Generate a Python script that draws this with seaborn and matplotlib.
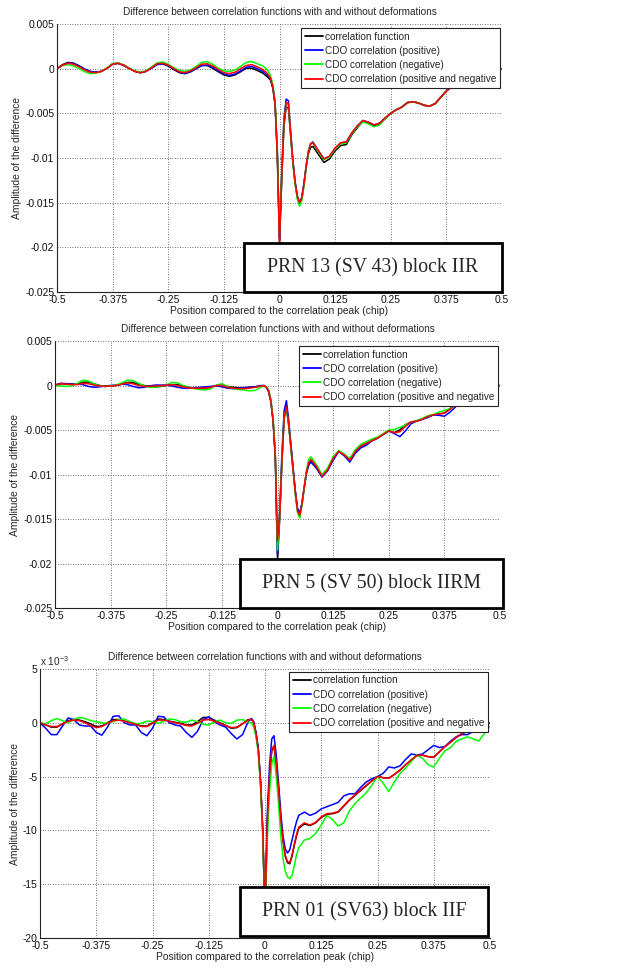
import numpy as np
import pandas as pd
import matplotlib
matplotlib.use("Agg")
import matplotlib.pyplot as plt
import seaborn as sns
from matplotlib.patches import Rectangle

sns.set_style("white")
plt.rcParams['font.family'] = ['Liberation Sans', 'DejaVu Sans']
plt.rcParams['axes.unicode_minus'] = False
plt.rcParams['mathtext.fontset'] = 'custom'
plt.rcParams['mathtext.rm'] = 'Liberation Sans'

# Position compared to the correlation peak (chip), shared by every curve
x_pos = [-0.5, -0.4875, -0.475, -0.4625, -0.45, -0.4375, -0.425, -0.4125, -0.4, -0.3875,
         -0.375, -0.3625, -0.35, -0.3375, -0.325, -0.3125, -0.3, -0.2875, -0.275, -0.2625,
         -0.25, -0.2375, -0.225, -0.2125, -0.2, -0.1875, -0.175, -0.1625, -0.15, -0.1375,
         -0.125, -0.1125, -0.1, -0.0875, -0.075, -0.0625, -0.05, -0.0375,
         -0.03, -0.025, -0.02, -0.015, -0.01, -0.005, 0.0, 0.005, 0.01, 0.015, 0.02,
         0.025, 0.03, 0.035, 0.04, 0.045, 0.05, 0.055, 0.06, 0.065, 0.07, 0.075,
         0.0875, 0.1, 0.1125, 0.125, 0.1375, 0.15, 0.1625, 0.175, 0.1875, 0.2,
         0.2125, 0.225, 0.2375, 0.25, 0.2625, 0.275, 0.2875, 0.3, 0.3125, 0.325,
         0.3375, 0.35, 0.3625, 0.375, 0.3875, 0.4, 0.4125, 0.425, 0.4375, 0.45,
         0.4625, 0.475, 0.4875, 0.5]

# all amplitudes below are in units of 1e-3
# PRN 13 (SV 43) block IIR
p1_black = [0.0, 0.45, 0.7, 0.6, 0.3, -0.1, -0.35, -0.4, -0.3, 0.05, 0.55, 0.6, 0.35, 0.0, -0.3, -0.45, -0.3, 0.1, 0.5, 0.55,
            0.3, -0.1, -0.45, -0.55, -0.35, 0.0, 0.35, 0.35, 0.05, -0.35, -0.7, -0.85, -0.7, -0.35, 0.05, 0.05, -0.2, -0.5,
            -0.8, -1.0, -1.3, -2.2, -4.0, -9.5, -19.5, -12.5, -6.5, -4.3, -4.4, -7.5, -10.5, -12.8, -14.4, -15.1, -14.6, -13.0, -11.0, -9.5, -8.8, -8.7,
            -9.6, -10.5, -10.1, -9.2, -8.6, -8.5, -7.4, -6.6, -5.9, -6.1, -6.4, -6.2, -5.6, -5.0, -4.6, -4.3, -3.8, -3.7, -3.85, -4.1,
            -4.2, -3.9, -3.2, -2.5, -2.0, -1.7, -1.5, -1.3, -1.0, -0.8, -0.6, -0.4, -0.2, 0.0]
p1_pos = [0.0, 0.4, 0.65, 0.6, 0.3, -0.05, -0.3, -0.4, -0.3, 0.05, 0.5, 0.6, 0.4, 0.05, -0.3, -0.45, -0.3, 0.05, 0.45, 0.55,
          0.35, -0.05, -0.4, -0.55, -0.35, 0.0, 0.35, 0.4, 0.15, -0.25, -0.6, -0.75, -0.6, -0.25, 0.15, 0.25, 0.0, -0.3,
          -0.6, -0.8, -1.1, -2.0, -3.8, -9.0, -19.0, -11.5, -5.5, -3.4, -3.6, -7.0, -10.2, -12.6, -14.2, -15.0, -14.4, -12.8, -10.8, -9.2, -8.4, -8.2,
          -9.2, -10.1, -9.8, -8.9, -8.3, -8.2, -7.2, -6.4, -5.8, -6.0, -6.3, -6.1, -5.5, -5.0, -4.6, -4.3, -3.8, -3.7, -3.85, -4.1,
          -4.2, -3.9, -3.2, -2.5, -2.0, -1.7, -1.5, -1.3, -1.0, -0.8, -0.6, -0.4, -0.2, 0.0]
p1_neg = [0.0, 0.35, 0.45, 0.3, 0.0, -0.35, -0.55, -0.5, -0.3, 0.1, 0.55, 0.65, 0.4, 0.05, -0.25, -0.4, -0.25, 0.2, 0.65, 0.75,
          0.5, 0.1, -0.2, -0.3, -0.15, 0.25, 0.7, 0.8, 0.5, 0.05, -0.25, -0.3, -0.15, 0.25, 0.7, 0.8, 0.55, 0.3,
          0.0, -0.3, -0.8, -1.8, -3.6, -9.0, -18.5, -12.0, -6.0, -3.9, -4.1, -7.3, -10.5, -12.9, -14.6, -15.4, -14.8, -13.1, -11.0, -9.3, -8.4, -8.3,
          -9.3, -10.2, -9.9, -9.0, -8.4, -8.3, -7.3, -6.5, -5.95, -6.2, -6.5, -6.3, -5.6, -5.0, -4.6, -4.3, -3.8, -3.7, -3.85, -4.1,
          -4.2, -3.9, -3.2, -2.5, -2.0, -1.7, -1.5, -1.3, -1.0, -0.8, -0.6, -0.4, -0.2, 0.0]
p1_both = [0.0, 0.4, 0.6, 0.5, 0.2, -0.15, -0.4, -0.45, -0.3, 0.05, 0.5, 0.6, 0.4, 0.0, -0.3, -0.45, -0.3, 0.1, 0.55, 0.6,
           0.4, 0.0, -0.35, -0.45, -0.25, 0.1, 0.5, 0.55, 0.3, -0.1, -0.45, -0.55, -0.4, 0.0, 0.35, 0.45, 0.2, -0.1,
           -0.4, -0.7, -1.1, -2.0, -3.8, -9.5, -19.6, -12.0, -6.0, -3.8, -3.9, -7.2, -10.3, -12.7, -14.3, -15.0, -14.5, -12.9, -10.9, -9.3, -8.4, -8.3,
           -9.2, -10.1, -9.8, -8.9, -8.3, -8.2, -7.2, -6.4, -5.8, -6.0, -6.3, -6.1, -5.5, -5.0, -4.6, -4.3, -3.8, -3.7, -3.85, -4.1,
           -4.2, -3.9, -3.2, -2.5, -2.0, -1.7, -1.5, -1.3, -1.0, -0.8, -0.6, -0.4, -0.2, 0.0]

# PRN 5 (SV 50) block IIRM
p2_black = [0.05, 0.2, 0.2, 0.15, 0.15, 0.35, 0.4, 0.2, 0.0, -0.1, -0.05, 0.0, 0.15, 0.35, 0.35, 0.15, 0.0, -0.1, -0.15, -0.1,
            0.0, 0.1, 0.1, -0.05, -0.2, -0.3, -0.3, -0.3, -0.2, 0.0, 0.05, -0.1, -0.2, -0.25, -0.25, -0.2, -0.15, -0.05,
            -0.05, -0.2, -0.7, -1.8, -4.0, -8.0, -19.5, -15.0, -8.5, -3.5, -2.3, -4.4, -6.8, -9.4, -12.0, -14.0, -14.6, -13.3, -11.5, -9.8, -8.8, -8.4,
            -9.2, -10.2, -9.5, -8.3, -7.4, -7.8, -8.35, -7.4, -6.8, -6.5, -6.2, -5.9, -5.5, -5.1, -5.3, -5.0, -4.4, -4.1, -4.0, -3.8,
            -3.5, -3.3, -3.2, -3.1, -2.6, -2.0, -1.7, -1.4, -1.1, -0.8, -0.6, -0.4, -0.2, 0.0]
p2_pos = [0.05, 0.25, 0.2, 0.15, 0.15, 0.1, -0.1, -0.2, -0.15, -0.05, 0.0, 0.05, 0.15, 0.1, -0.1, -0.25, -0.2, -0.05, 0.05, 0.05,
          0.05, -0.05, -0.2, -0.3, -0.3, -0.25, -0.2, -0.15, -0.1, -0.05, -0.15, -0.3, -0.35, -0.3, -0.25, -0.2, -0.15, 0.0,
          0.0, -0.15, -0.6, -1.7, -3.8, -7.8, -19.0, -14.0, -7.5, -2.8, -1.7, -3.8, -6.5, -9.2, -11.8, -13.8, -14.3, -13.2, -11.5, -9.9, -9.0, -8.6,
          -9.3, -10.3, -9.6, -8.4, -7.4, -7.9, -8.6, -7.6, -7.0, -6.7, -6.2, -5.9, -5.5, -5.1, -5.4, -5.75, -5.1, -4.3, -4.0, -3.8,
          -3.6, -3.3, -3.35, -3.45, -3.0, -2.4, -1.9, -1.5, -1.2, -0.9, -0.6, -0.4, -0.2, 0.0]
p2_neg = [0.0, -0.05, -0.1, -0.05, 0.25, 0.6, 0.5, 0.2, -0.05, -0.1, -0.05, 0.05, 0.3, 0.6, 0.55, 0.25, -0.05, -0.2, -0.2, -0.1,
          0.05, 0.35, 0.3, 0.0, -0.2, -0.35, -0.45, -0.5, -0.35, 0.05, 0.2, -0.1, -0.35, -0.45, -0.5, -0.6, -0.55, -0.2,
          0.0, -0.15, -0.5, -1.5, -3.6, -7.5, -18.5, -14.5, -8.3, -3.6, -2.6, -4.4, -7.0, -9.6, -12.2, -14.3, -14.9, -13.5, -11.5, -9.6, -8.3, -8.0,
          -8.9, -10.0, -9.3, -8.0, -7.3, -7.7, -8.2, -7.2, -6.6, -6.3, -6.0, -5.8, -5.4, -5.0, -4.95, -4.7, -4.45, -4.1, -3.95, -3.7,
          -3.4, -3.25, -3.0, -2.8, -2.6, -2.2, -1.8, -1.5, -1.2, -0.9, -0.6, -0.4, -0.2, 0.0]
p2_both = [0.05, 0.2, 0.15, 0.1, 0.1, 0.25, 0.2, 0.05, -0.05, -0.1, -0.05, 0.0, 0.15, 0.3, 0.2, 0.0, -0.1, -0.1, -0.05, -0.05,
           0.05, 0.1, 0.0, -0.15, -0.25, -0.3, -0.3, -0.3, -0.2, 0.0, 0.0, -0.2, -0.3, -0.35, -0.35, -0.3, -0.2, -0.05,
           -0.02, -0.2, -0.6, -1.7, -3.9, -7.9, -17.5, -14.5, -8.4, -3.7, -2.4, -4.3, -6.9, -9.5, -12.0, -14.1, -14.6, -13.3, -11.4, -9.7, -8.7, -8.3,
           -9.1, -10.2, -9.5, -8.2, -7.4, -7.8, -8.4, -7.4, -6.8, -6.5, -6.2, -5.9, -5.5, -5.1, -5.3, -5.2, -4.6, -4.1, -4.0, -3.8,
           -3.5, -3.3, -3.2, -3.1, -2.7, -2.1, -1.7, -1.4, -1.1, -0.8, -0.6, -0.4, -0.2, 0.0]

# PRN 01 (SV63) block IIF
p3_black = [0.0, -0.2, -0.4, -0.4, -0.1, 0.2, 0.3, 0.25, 0.1, -0.1, -0.35, -0.3, 0.0, 0.3, 0.3, 0.15, 0.05, -0.1, -0.3, -0.3,
            0.0, 0.35, 0.3, 0.15, 0.05, -0.05, -0.2, -0.2, 0.1, 0.5, 0.5, 0.25, 0.0, -0.25, -0.5, -0.45, -0.1, 0.3,
            0.3, 0.0, -1.0, -2.5, -5.5, -10.0, -18.0, -9.5, -5.0, -2.6, -2.2, -3.8, -6.2, -9.0, -11.0, -12.4, -13.0, -13.1, -12.4, -11.4, -10.5, -9.8,
            -9.4, -9.55, -9.3, -8.8, -8.5, -8.45, -8.3, -7.75, -7.2, -6.75, -6.3, -5.85, -5.4, -5.0, -5.1, -5.15, -4.8, -4.4, -3.9, -3.45,
            -3.05, -3.0, -3.15, -3.2, -2.7, -2.2, -1.8, -1.35, -1.0, -0.8, -0.6, -0.4, -0.2, 0.0]
p3_pos = [0.0, -0.5, -1.1, -1.1, -0.3, 0.45, 0.3, -0.2, -0.3, -0.3, -0.9, -1.15, -0.4, 0.6, 0.65, 0.0, -0.2, -0.2, -0.9, -1.2,
          -0.5, 0.6, 0.55, 0.0, -0.2, -0.3, -0.9, -1.35, -0.8, 0.3, 0.55, 0.1, -0.2, -0.4, -1.0, -1.5, -1.1, 0.1,
          0.4, 0.1, -0.9, -2.3, -5.3, -10.0, -18.0, -8.5, -4.0, -1.5, -1.2, -3.0, -5.5, -8.3, -10.5, -11.7, -12.1, -11.8, -10.9, -10.0, -9.2, -8.6,
          -8.3, -8.6, -8.4, -8.0, -7.8, -7.6, -7.4, -6.8, -6.6, -6.6, -6.0, -5.5, -5.2, -5.0, -4.7, -4.1, -4.2, -4.0, -3.4, -2.9,
          -3.0, -2.9, -2.5, -2.1, -2.3, -2.2, -1.7, -1.3, -1.1, -1.1, -0.8, -0.5, -0.3, 0.0]
p3_neg = [0.0, -0.1, 0.2, 0.4, 0.2, 0.0, 0.3, 0.5, 0.4, 0.2, 0.1, 0.0, -0.05, 0.1, 0.3, 0.35, 0.1, -0.1, -0.05, 0.15,
          0.1, -0.05, 0.15, 0.35, 0.3, 0.1, 0.05, 0.25, 0.1, -0.15, -0.2, 0.1, 0.25, 0.0, -0.05, 0.25, 0.3, 0.05,
          0.0, -0.4, -1.3, -2.8, -5.8, -10.5, -18.0, -11.0, -6.5, -3.8, -3.1, -5.0, -7.5, -10.5, -12.6, -13.8, -14.3, -14.5, -14.2, -13.3, -12.3, -11.6,
          -10.9, -10.75, -10.3, -9.5, -8.6, -9.0, -9.6, -9.3, -8.2, -7.5, -7.0, -6.5, -5.8, -5.0, -5.6, -6.4, -5.5, -4.7, -4.2, -3.6,
          -3.0, -3.3, -3.9, -4.1, -3.3, -2.6, -2.3, -1.7, -1.5, -1.3, -1.5, -1.7, -1.0, -0.3]
p3_both = [0.0, -0.2, -0.35, -0.35, -0.1, 0.15, 0.25, 0.2, 0.0, -0.25, -0.45, -0.35, -0.05, 0.2, 0.25, 0.15, 0.0, -0.15, -0.35, -0.35,
           -0.05, 0.25, 0.25, 0.15, 0.0, -0.1, -0.25, -0.3, -0.05, 0.25, 0.3, 0.15, -0.05, -0.25, -0.45, -0.4, -0.1, 0.25,
           0.3, 0.0, -1.0, -2.5, -5.4, -10.0, -18.0, -9.4, -4.9, -2.5, -2.1, -3.7, -6.1, -8.9, -10.9, -12.3, -12.9, -13.0, -12.3, -11.3, -10.4, -9.7,
           -9.3, -9.5, -9.25, -8.75, -8.45, -8.4, -8.25, -7.7, -7.15, -6.7, -6.25, -5.8, -5.4, -5.0, -5.1, -5.15, -4.8, -4.4, -3.9, -3.45,
           -3.05, -3.0, -3.15, -3.2, -2.7, -2.2, -1.8, -1.35, -1.0, -0.8, -0.6, -0.4, -0.2, 0.0]

series_names = ['correlation function', 'CDO correlation (positive)',
                'CDO correlation (negative)', 'CDO correlation (positive and negative']
line_colors = ['#000000', '#0000ff', '#00ff00', '#ff0000']

x_ticks = [-0.5, -0.375, -0.25, -0.125, 0, 0.125, 0.25, 0.375, 0.5]
x_tick_labels = ['-0.5', '-0.375', '-0.25', '-0.125', '0', '0.125', '0.25', '0.375', '0.5']
y_ticks_abs = [0.005, 0, -0.005, -0.01, -0.015, -0.02, -0.025]
y_tick_labels_abs = ['0.005', '0', '-0.005', '-0.01', '-0.015', '-0.02', '-0.025']
y_ticks_milli = [5, 0, -5, -10, -15, -20]
y_tick_labels_milli = ['5', '0', '-5', '-10', '-15', '-20']

panels = [
    dict(curves=[p1_black, p1_pos, p1_neg, p1_both], scale=1e-3, rect=[57/618, 1-292/971, 445/618, 268/971],
         ylim=(-0.025, 0.005), yt=y_ticks_abs, ytl=y_tick_labels_abs, leg=(0.9955, 0.985),
         box=(0.42, 0.0, 0.58, 0.183), label='PRN 13 (SV 43) block IIR'),
    dict(curves=[p2_black, p2_pos, p2_neg, p2_both], scale=1e-3, rect=[55/618, 1-608/971, 445/618, 267/971],
         ylim=(-0.025, 0.005), yt=y_ticks_abs, ytl=y_tick_labels_abs, leg=(0.9955, 0.981),
         box=(0.416, 0.0, 0.59, 0.184), label='PRN 5 (SV 50) block IIRM'),
    dict(curves=[p3_black, p3_pos, p3_neg, p3_both], scale=1.0, rect=[40/618, 1-938/971, 450/618, 269/971],
         ylim=(-20, 5), yt=y_ticks_milli, ytl=y_tick_labels_milli, leg=(0.9956, 0.989),
         box=(0.444, 0.007, 0.552, 0.183), label='PRN 01 (SV63) block IIF'),
]

fig = plt.figure(figsize=(6.18, 9.71), dpi=100)

for i, p in enumerate(panels):
    ax = fig.add_axes(p['rect'])
    frames = []
    for name, vals in zip(series_names, p['curves']):
        frames.append(pd.DataFrame({'x': x_pos, 'y': np.array(vals) * p['scale'], 'series': name}))
    df = pd.concat(frames, ignore_index=True)

    sns.lineplot(data=df, x='x', y='y', hue='series', hue_order=series_names, palette=line_colors,
                 estimator=None, sort=False, linewidth=1.1, ax=ax)

    ax.set_xlim(-0.5, 0.5)
    ax.set_ylim(*p['ylim'])
    ax.set_xticks(x_ticks)
    ax.set_xticklabels(x_tick_labels)
    ax.set_yticks(p['yt'])
    ax.set_yticklabels(p['ytl'])
    ax.grid(True, color='#444444', linestyle=(0, (1, 2)), linewidth=0.6)
    for s in ['top', 'right']:
        ax.spines[s].set_visible(False)
    for s in ['left', 'bottom']:
        ax.spines[s].set_color('#222222')
        ax.spines[s].set_linewidth(0.8)
    ax.tick_params(direction='in', length=3, width=0.6, labelsize=7.4, pad=2, colors='#111111')

    ax.set_title('Difference between correlation functions with and without deformations', fontsize=7.2, pad=6.5)
    ax.set_xlabel('Position compared to the correlation peak (chip)', fontsize=7.4, labelpad=1)
    ax.set_ylabel('Amplitude of the difference', fontsize=7.4, labelpad=2)

    handles, labels = ax.get_legend_handles_labels()
    leg = ax.legend(handles, labels, loc='upper right', bbox_to_anchor=p['leg'], borderaxespad=0,
                    fontsize=7.2, frameon=True, fancybox=False, edgecolor='#222222', framealpha=1,
                    handlelength=1.8, handletextpad=0.25, labelspacing=0.42, borderpad=0.35)
    leg.get_frame().set_linewidth(0.8)
    for h in leg.get_lines():
        h.set_linewidth(1.3)

    bx, by, bw, bh = p['box']
    ax.add_patch(Rectangle((bx, by), bw, bh, transform=ax.transAxes, facecolor='white',
                           edgecolor='black', linewidth=2, zorder=5, clip_on=False))
    ax.text(bx + bw / 2, by + bh / 2, p['label'], transform=ax.transAxes, ha='center', va='center',
            fontsize=14.2, family=['Liberation Serif', 'DejaVu Serif'], zorder=6)

    if p['scale'] == 1.0:
        ax.text(0.0, 1.004, r'x 10$^{-3}$', transform=ax.transAxes, ha='left', va='bottom', fontsize=7.2)

fig.savefig('out.png', dpi=100)
